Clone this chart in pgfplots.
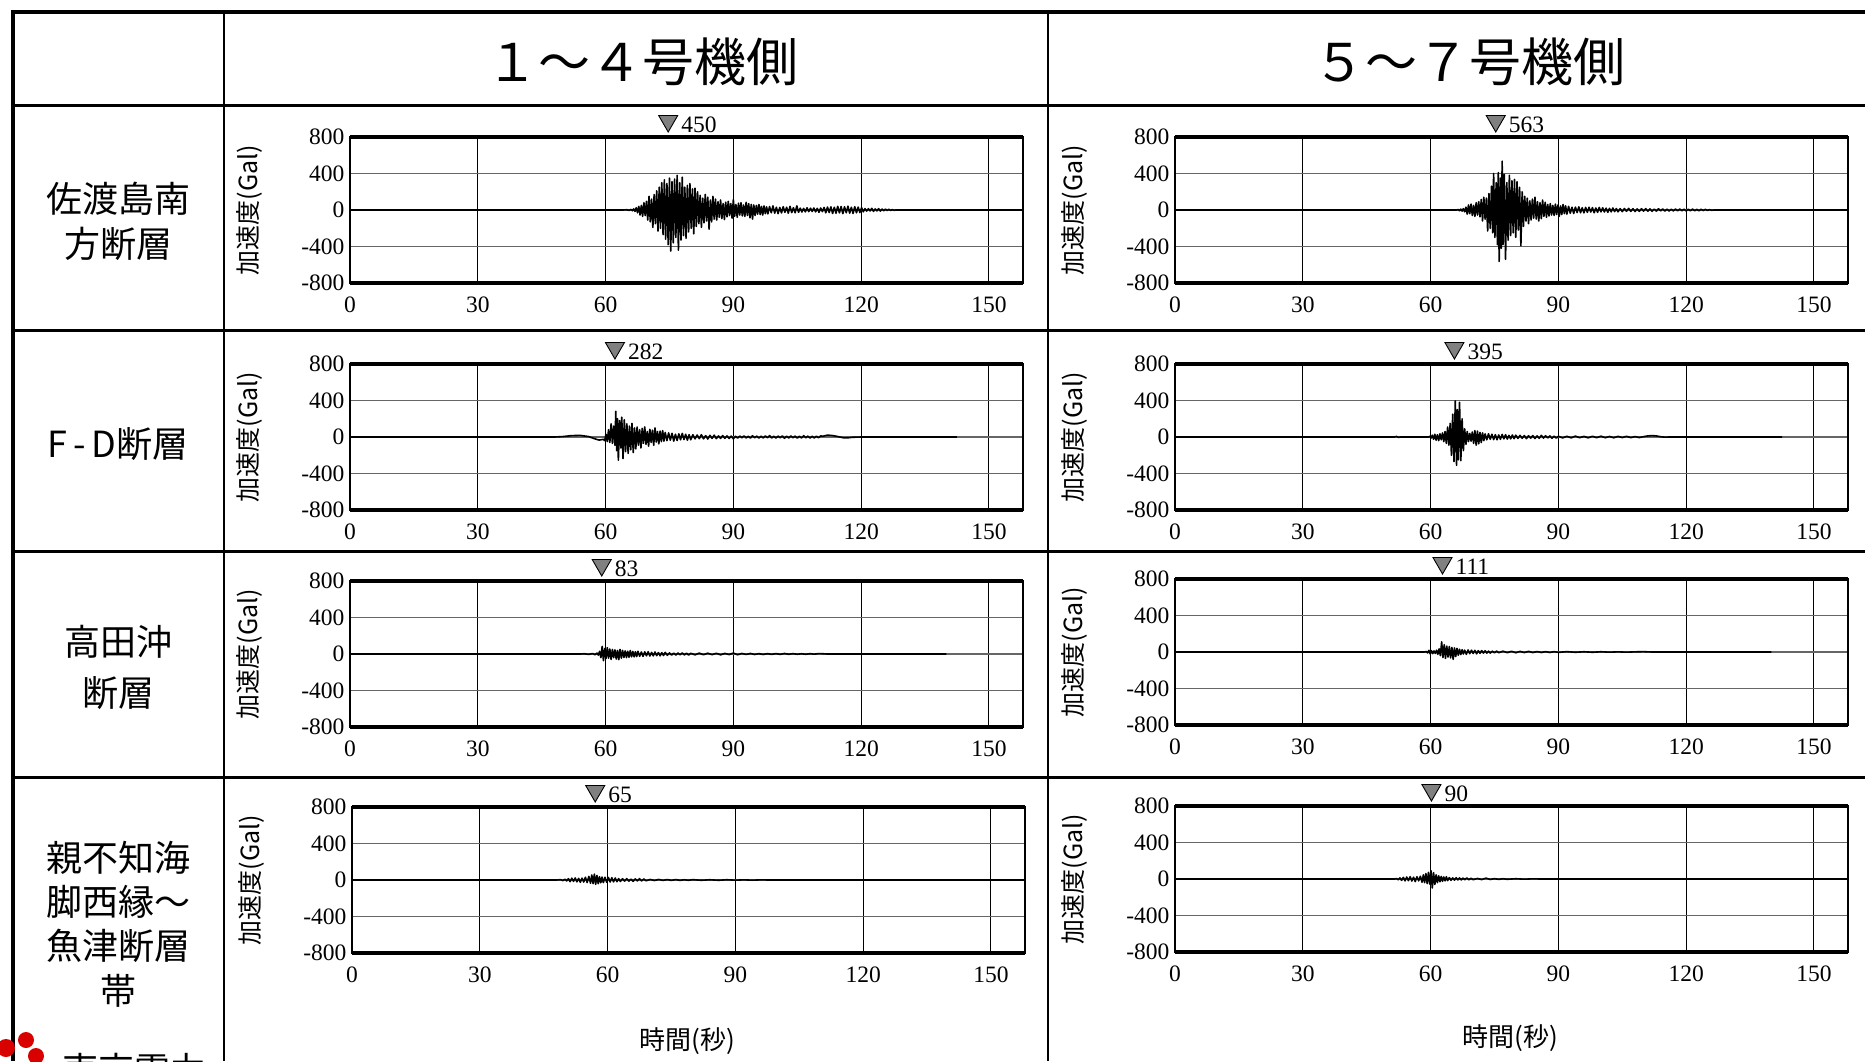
\documentclass[border=0pt]{standalone}
\usepackage{fontspec}
\usepackage{pgfplots}
\pgfplotsset{compat=1.18}
\usetikzlibrary{shapes.geometric}
\setmainfont{Liberation Serif}
\newfontfamily\cjk{Noto Sans CJK JP}

\pgfplotsset{
  wave/.style={
    scale only axis, width=673pt, height=146pt,
    anchor=south west,
    xmin=0, xmax=158, ymin=-800, ymax=800,
    xtick={0,30,60,90,120,150}, ytick={-800,-400,0,400,800},
    major tick length=0pt,
    xmajorgrids, ymajorgrids,
    x grid style={line width=1pt, black},
    y grid style={line width=1.6pt, black!60},
    axis line style={line width=2pt},
    /pgf/number format/assume math mode=true,
    tick label style={font=\fontsize{23.5}{23.5}\selectfont},
    xticklabel style={yshift=-10pt},
    yticklabel style={xshift=-2pt},
    ylabel={加速度(Gal)},
    ylabel style={at={(axis description cs:-0.149,0.5)}, anchor=center, rotate=0, font=\cjk\fontsize{25}{25}\selectfont},
    clip=false,
  },
  trace/.style={black, line width=1.6pt, line join=round, no marks},
}
\newcommand{\boxlines}{%
  \draw[line width=4pt] (rel axis cs:0,1) -- (rel axis cs:1,1);
  \draw[line width=4pt] (rel axis cs:0,0) -- (rel axis cs:1,0);}
\newcommand{\peak}[2]{%
  \node[regular polygon, regular polygon sides=3, shape border rotate=180, minimum size=22pt, inner sep=0pt, draw=black, line width=0.9pt, fill=black!50] at (axis cs:#1,800) [yshift=16pt] {};
  \node[anchor=west, inner sep=0pt, font=\fontsize{23.5}{23.5}\selectfont] at (axis cs:#1,800) [xshift=13pt, yshift=12pt] {#2};}

\begin{document}
\begin{tikzpicture}
\useasboundingbox (0pt,0pt) rectangle (1865pt,-1061pt);
\fill[white] (0pt,0pt) rectangle (1865pt,-1061pt);

% ---------- row 1 left ----------
\begin{axis}[wave, at={(350pt,-283pt)}]
\addplot[trace] coordinates {(0,0)(64,0)(65,3)(65.5,-4)(66,6)(66.3,-8)(66.6,12)(66.9,-15)(67.2,25)(67.5,-30)(67.8,40)(68.1,-55)(68.4,50)(68.7,-70)(69,80)(69.3,-60)(69.6,95)(69.9,-110)(70.2,150)(70.5,-130)(70.8,120)(71.1,-190)(71.4,170)(71.7,-150)(72,210)(72.3,-230)(72.6,250)(72.9,-200)(73.2,300)(73.5,-270)(73.8,330)(74.1,-320)(74.4,290)(74.7,-380)(75,350)(75.3,-450)(75.6,310)(75.9,-360)(76.2,340)(76.5,-300)(76.8,380)(77.1,-440)(77.4,300)(77.7,-330)(78,360)(78.3,-280)(78.6,250)(78.9,-310)(79.2,270)(79.5,-240)(79.8,290)(80.1,-200)(80.4,230)(80.7,-260)(81,240)(81.3,-180)(81.6,200)(81.9,-150)(82.2,160)(82.5,-190)(82.8,130)(83.1,-140)(83.4,170)(83.7,-120)(84,140)(84.3,-210)(84.6,110)(84.9,-130)(85.2,150)(85.5,-100)(85.8,120)(86.1,-110)(86.4,90)(86.7,-80)(87,110)(87.3,-95)(87.6,70)(87.9,-105)(88.2,85)(88.5,-75)(88.8,95)(89.1,-60)(89.4,70)(89.7,-90)(90,115)(90.3,-70)(90.6,60)(90.9,-80)(91.2,75)(91.5,-55)(91.8,80)(92.1,-65)(92.4,55)(92.7,-70)(93,85)(93.3,-60)(93.6,70)(93.9,-85)(94.2,60)(94.5,-100)(94.8,55)(95.1,-60)(95.4,50)(95.7,-45)(96,60)(96.3,-50)(96.6,40)(96.9,-55)(97.2,45)(97.5,-40)(97.8,35)(98.1,-42)(98.5,38)(98.9,-30)(99.3,45)(99.7,-35)(100.1,30)(100.5,-40)(100.9,28)(101.3,-32)(101.7,36)(102.1,-25)(102.5,30)(102.9,-35)(103.3,40)(103.7,-28)(104.1,25)(104.5,-30)(104.9,45)(105.3,-25)(105.7,20)(106.1,-22)(106.5,18)(106.9,-20)(107.3,24)(107.7,-18)(108.1,20)(108.5,-16)(108.9,22)(109.3,-20)(109.7,18)(110.1,-25)(110.5,22)(110.9,-18)(111.3,28)(111.7,-30)(112.1,32)(112.5,-28)(112.9,35)(113.3,-38)(113.7,30)(114.1,-35)(114.5,40)(114.9,-32)(115.3,38)(115.7,-40)(116.1,35)(116.5,-30)(116.9,42)(117.3,-35)(117.7,30)(118.1,-38)(118.5,36)(118.9,-30)(119.3,32)(119.7,-28)(120.1,25)(120.5,-20)(120.9,15)(121.3,-12)(121.7,14)(122.1,-10)(122.5,18)(122.9,-15)(123.3,12)(123.7,-10)(124.1,15)(124.5,-12)(124.9,10)(125.3,-8)(125.7,10)(126.1,-6)(126.5,8)(126.9,-5)(127.3,4)(127.7,-3)(128.1,0)(158,0)};
\boxlines
\peak{74.7}{450}
\end{axis}

% ---------- row 1 right ----------
\begin{axis}[wave, at={(1175pt,-283pt)}]
\addplot[trace] coordinates {(0,0)(66,0)(66.5,5)(66.8,-8)(67.1,10)(67.4,-12)(67.7,15)(68,-20)(68.3,30)(68.6,-45)(68.9,55)(69.2,-40)(69.5,65)(69.8,-60)(70.1,50)(70.4,-70)(70.7,80)(71,-55)(71.3,90)(71.6,-75)(71.9,115)(72.2,-120)(72.5,140)(72.8,-100)(73.1,130)(73.4,-230)(73.7,180)(74,-200)(74.3,260)(74.6,-250)(74.8,400)(75.1,-300)(75.4,300)(75.7,-380)(75.9,410)(76.1,-563)(76.4,350)(76.6,-420)(76.8,535)(77,-380)(77.3,390)(77.6,-540)(77.9,300)(78.2,-330)(78.5,380)(78.8,-280)(79.1,320)(79.4,-250)(79.7,335)(80,-300)(80.3,310)(80.6,-220)(80.9,250)(81.2,-390)(81.5,200)(81.8,-180)(82.1,150)(82.4,-120)(82.7,130)(83,-150)(83.3,100)(83.6,-110)(83.9,120)(84.2,-90)(84.5,140)(84.8,-100)(85.1,90)(85.4,-120)(85.7,80)(86,-95)(86.3,110)(86.6,-70)(86.9,85)(87.2,-80)(87.5,60)(87.8,-65)(88.1,70)(88.4,-55)(88.7,50)(89,-60)(89.3,65)(89.6,-50)(89.9,55)(90.2,-70)(90.5,45)(90.8,-50)(91.1,60)(91.4,-40)(91.7,45)(92,-45)(92.4,40)(92.8,-35)(93.2,30)(93.6,-38)(94,32)(94.4,-28)(94.8,35)(95.2,-30)(95.6,25)(96,-32)(96.4,28)(96.8,-25)(97.2,30)(97.6,-22)(98,26)(98.4,-30)(98.8,22)(99.2,-25)(99.6,28)(100,-20)(100.4,24)(100.8,-22)(101.2,20)(101.6,-25)(102,18)(102.4,-20)(102.8,22)(103.2,-18)(103.6,16)(104,-20)(104.5,15)(105,-18)(105.5,16)(106,-14)(106.5,18)(107,-15)(107.5,14)(108,-16)(108.5,12)(109,-15)(109.5,14)(110,-12)(110.5,15)(111,-13)(111.5,12)(112,-14)(112.5,10)(113,-12)(113.5,13)(114,-10)(114.5,12)(115,-11)(115.5,10)(116,-12)(116.5,9)(117,-10)(117.5,11)(118,-9)(118.5,10)(119,-8)(119.5,9)(120,-10)(120.5,8)(121,-9)(121.5,10)(122,-8)(122.5,7)(123,-9)(123.5,8)(124,-6)(124.5,7)(125,-5)(125.5,4)(126,-3)(126.5,0)(158,0)};
\boxlines
\peak{75.3}{563}
\end{axis}

% ---------- row 2 left ----------
\begin{axis}[wave, at={(350pt,-510pt)}]
\addplot[trace] coordinates {(0,0)(48,0)(50,5)(52,15)(54,18)(56,5)(57.5,-20)(58.5,-34)(59.5,-25)(59.8,-40)(60.1,30)(60.4,-50)(60.7,80)(61,-60)(61.3,145)(61.6,-70)(61.9,120)(62.2,-90)(62.4,282)(62.6,-150)(62.8,200)(63,-255)(63.3,180)(63.6,-120)(63.8,218)(64.1,-236)(64.4,190)(64.7,-160)(65,145)(65.3,-180)(65.6,120)(65.9,-140)(66.2,150)(66.5,-170)(66.8,100)(67.1,-130)(67.4,110)(67.7,-90)(68,80)(68.3,-120)(68.6,95)(68.9,-70)(69.2,110)(69.5,-80)(69.8,60)(70.1,-100)(70.4,85)(70.7,-60)(71,75)(71.3,-90)(71.6,100)(71.9,-55)(72.2,60)(72.5,-75)(72.8,65)(73.1,-50)(73.4,70)(73.7,-45)(74,50)(74.4,-40)(74.8,45)(75.2,-35)(75.6,40)(76,-45)(76.4,30)(76.8,-38)(77.2,35)(77.6,-30)(78,40)(78.4,-28)(78.8,30)(79.2,-35)(79.6,25)(80,-30)(80.5,25)(81,-20)(81.5,22)(82,-18)(82.5,25)(83,-20)(83.5,15)(84,-22)(84.5,18)(85,-15)(85.5,20)(86,-18)(86.5,12)(87,-15)(87.5,16)(88,-14)(88.5,12)(89,-16)(89.5,10)(90,-20)(90.5,8)(91,-12)(91.5,10)(92,-8)(92.5,12)(93,-10)(93.5,8)(94,-12)(94.5,14)(95,-8)(95.5,10)(96,-12)(96.5,9)(97,-10)(97.5,12)(98,-8)(98.5,15)(99,-10)(99.5,8)(100,-12)(100.5,10)(101,-8)(101.5,12)(102,-14)(102.5,9)(103,-10)(103.5,12)(104,-8)(104.5,10)(105,-12)(105.5,8)(106,-10)(106.5,14)(107,-9)(107.5,10)(108,-12)(108.5,8)(109,-10)(109.5,9)(110,-8)(110.5,12)(111,8)(112,20)(113,18)(114,10)(115,0)(116,-10)(117,-8)(118,-3)(120,0)(142.5,0)};
\boxlines
\peak{62.2}{282}
\end{axis}

% ---------- row 2 right ----------
\begin{axis}[wave, at={(1175pt,-510pt)}]
\addplot[trace] coordinates {(0,0)(51.5,0)(52,6)(52.5,-4)(53,0)(59.5,0)(59.8,8)(60.1,-12)(60.4,20)(60.7,-25)(61,30)(61.3,-35)(61.6,25)(61.9,-40)(62.2,35)(62.5,-30)(62.8,45)(63.1,-50)(63.4,60)(63.7,-70)(64,110)(64.3,-90)(64.6,150)(64.9,-200)(65.2,250)(65.5,-270)(65.8,395)(66.1,-310)(66.3,300)(66.5,-250)(66.8,380)(67.1,-260)(67.4,200)(67.7,-150)(68,90)(68.3,-80)(68.6,60)(68.9,-50)(69.2,40)(69.5,-45)(69.8,55)(70.1,-70)(70.4,70)(70.7,-90)(71,65)(71.3,-75)(71.6,50)(71.9,-60)(72.2,45)(72.5,-40)(72.8,35)(73.2,-30)(73.6,35)(74,-25)(74.4,30)(74.8,-28)(75.2,25)(75.6,-30)(76,22)(76.4,-25)(76.8,28)(77.2,-20)(77.6,25)(78,-22)(78.4,18)(78.8,-20)(79.2,22)(79.6,-18)(80,20)(80.5,-15)(81,18)(81.5,-14)(82,16)(82.5,-18)(83,14)(83.5,-12)(84,15)(84.5,-16)(85,12)(85.5,-14)(86,18)(86.5,-12)(87,14)(87.5,-10)(88,12)(88.5,-14)(89,10)(89.5,-12)(90,8)(91,-10)(92,8)(93,-9)(94,10)(95,-8)(96,7)(97,-9)(98,8)(99,-7)(100,9)(101,-8)(102,6)(103,-8)(104,7)(105,-6)(106,8)(107,-7)(108,5)(109,-6)(110,4)(111,12)(112,15)(113,12)(114,3)(115,-2)(116,0)(142.5,0)};
\boxlines
\peak{65.6}{395}
\end{axis}

% ---------- row 3 left ----------
\begin{axis}[wave, at={(350pt,-727pt)}]
\addplot[trace] coordinates {(0,0)(54,0)(55,3)(56,-4)(57,5)(57.5,-8)(58,10)(58.3,-12)(58.6,30)(58.9,-40)(59.2,83)(59.5,-73)(59.8,60)(60.1,-50)(60.4,70)(60.7,-45)(61,55)(61.3,-60)(61.6,50)(61.9,-40)(62.2,45)(62.5,-55)(62.8,40)(63.1,-62)(63.4,50)(63.7,-45)(64,40)(64.3,-38)(64.6,35)(64.9,-40)(65.2,30)(65.5,-35)(65.8,38)(66.1,-30)(66.4,28)(66.7,-32)(67,25)(67.3,-28)(67.6,30)(68,-25)(68.4,22)(68.8,-26)(69.2,24)(69.6,-20)(70,25)(70.4,-22)(70.8,18)(71.2,-20)(71.6,22)(72,-18)(72.4,16)(72.8,-20)(73.2,15)(73.6,-16)(74,18)(74.5,-14)(75,12)(75.5,-12)(76,10)(76.5,-12)(77,11)(77.5,-9)(78,12)(78.5,-10)(79,9)(79.5,-11)(80,8)(81,-9)(82,10)(83,-8)(84,9)(85,-7)(86,8)(87,-9)(88,7)(89,-6)(90,10)(91,-8)(92,6)(93,-5)(94,6)(95,-5)(96,4)(97,-5)(98,4)(99,-4)(100,5)(101,-4)(102,6)(103,-3)(104,4)(105,-3)(106,3)(107,-3)(108,4)(109,-2)(110,5)(111,3)(112,0)(140,0)};
\boxlines
\peak{59.1}{83}
\end{axis}

% ---------- row 3 right ----------
\begin{axis}[wave, at={(1175pt,-725pt)}]
\addplot[trace] coordinates {(0,0)(58.5,0)(59,5)(59.3,-10)(59.6,18)(59.9,-20)(60.2,15)(60.5,-18)(60.8,12)(61.1,-15)(61.4,20)(61.7,-25)(62,35)(62.3,-40)(62.6,111)(62.9,-60)(63.2,80)(63.5,-70)(63.8,65)(64.1,-55)(64.4,60)(64.7,-65)(65,50)(65.3,-80)(65.6,45)(65.9,-50)(66.2,40)(66.5,-35)(66.8,30)(67.1,-28)(67.4,25)(67.7,-22)(68,20)(68.4,-25)(68.8,22)(69.2,-18)(69.6,20)(70,-16)(70.4,18)(70.8,-20)(71.2,15)(71.6,-14)(72,16)(72.4,-12)(72.8,14)(73.2,-12)(73.6,10)(74,-12)(74.5,10)(75,-9)(75.5,10)(76,-8)(77,9)(78,-7)(79,8)(80,-8)(81,7)(82,-6)(83,7)(84,-6)(85,5)(86,-5)(87,4)(88,-5)(89,4)(90,-4)(92,4)(94,-3)(96,3)(98,-3)(100,3)(102,-2)(104,2)(106,-2)(108,2)(110,4)(112,0)(140,0)};
\boxlines
\peak{62.8}{111}
\end{axis}

% ---------- row 4 left ----------
\begin{axis}[wave, at={(352pt,-953pt)}]
\addplot[trace] coordinates {(0,0)(48,0)(49,4)(49.5,-6)(50,8)(50.4,-10)(50.8,15)(51.2,-18)(51.6,20)(52,-15)(52.4,22)(52.8,-20)(53.2,18)(53.6,-25)(54,20)(54.4,-22)(54.8,30)(55.2,-28)(55.6,40)(56,-35)(56.3,55)(56.6,-40)(56.9,65)(57.2,-47)(57.5,50)(57.8,-40)(58.1,35)(58.4,-30)(58.7,32)(59,-28)(59.4,30)(59.8,-25)(60.2,28)(60.6,-22)(61,25)(61.4,-20)(61.8,22)(62.2,-18)(62.6,15)(63,-16)(63.5,14)(64,-12)(64.5,15)(65,-12)(65.5,10)(66,-14)(66.5,12)(67,-10)(67.5,15)(68,-10)(68.5,12)(69,-8)(70,6)(71,-5)(72,6)(73,-4)(74,5)(75,-4)(76,5)(77,-4)(78,3)(79,-3)(80,4)(82,-3)(84,3)(86,-3)(88,3)(90,-2)(92,2)(94,-2)(96,2)(98,0)(158,0)};
\boxlines
\peak{57.1}{65}
\end{axis}

% ---------- row 4 right ----------
\begin{axis}[wave, at={(1175pt,-952pt)}]
\addplot[trace] coordinates {(0,0)(51.5,0)(52,5)(52.4,-8)(52.8,12)(53.2,-15)(53.6,18)(54,-20)(54.4,22)(54.8,-18)(55.2,25)(55.6,-22)(56,20)(56.4,-28)(56.8,25)(57.2,-20)(57.6,30)(58,-35)(58.3,45)(58.6,-40)(58.9,60)(59.2,-50)(59.5,73)(59.8,-55)(60.1,90)(60.4,-98)(60.7,70)(61,-60)(61.3,45)(61.6,-40)(61.9,35)(62.2,-30)(62.5,28)(62.8,-25)(63.1,22)(63.4,-20)(63.7,25)(64,-18)(64.4,15)(64.8,-14)(65.2,12)(65.6,-12)(66,14)(66.4,-10)(66.8,12)(67.2,-10)(67.6,10)(68,-8)(68.5,12)(69,-9)(69.5,8)(70,-7)(71,6)(72,-6)(73,10)(74,-5)(75,4)(76,-4)(77,3)(78,-3)(80,3)(82,-2)(84,2)(86,0)(158,0)};
\boxlines
\peak{60.2}{90}
\end{axis}

% ---------- table frame ----------
\draw[line width=4pt] (11pt,-11.5pt) -- (1865pt,-11.5pt);
\draw[line width=4pt] (13pt,-10pt) -- (13pt,-1061pt);
\draw[line width=2.5pt] (224pt,-10pt) -- (224pt,-1061pt);
\draw[line width=2.5pt] (1048pt,-10pt) -- (1048pt,-1061pt);
\foreach \yy in {105,330,551,777}{\draw[line width=3pt] (13pt,-\yy pt) -- (1865pt,-\yy pt);}

% ---------- texts ----------
\node[font=\cjk\fontsize{52}{52}\selectfont] at (642pt,-62pt) {１～４号機側};
\node[font=\cjk\fontsize{52}{52}\selectfont] at (1469pt,-62pt) {５～７号機側};
\node[align=center, font=\cjk\fontsize{36}{45}\selectfont] at (118pt,-221pt) {佐渡島南\\方断層};
\node[align=center, font=\cjk\fontsize{36}{45}\selectfont] at (118pt,-444pt) {F\,-\,D断層};
\node[align=center, font=\cjk\fontsize{36}{51}\selectfont] at (118pt,-667pt) {高田沖\\断層};
\node[align=center, font=\cjk\fontsize{36}{44.3}\selectfont] at (118pt,-924pt) {親不知海\\脚西縁～\\魚津断層\\帯};
\node[font=\cjk\fontsize{26}{26}\selectfont] at (687pt,-1041pt) {時間(秒)};
\node[font=\cjk\fontsize{26}{26}\selectfont] at (1510pt,-1038pt) {時間(秒)};
% partial logo at bottom-left corner
\fill[red!85!black] (6pt,-1048pt) circle (9pt);
\fill[red!85!black] (26pt,-1040pt) circle (8pt);
\fill[red!85!black] (36pt,-1056pt) circle (8pt);
\node[font=\cjk\fontsize{36}{36}\selectfont, anchor=north west, inner sep=0pt] at (62pt,-1053pt) {東京電力};
\end{tikzpicture}
\end{document}
